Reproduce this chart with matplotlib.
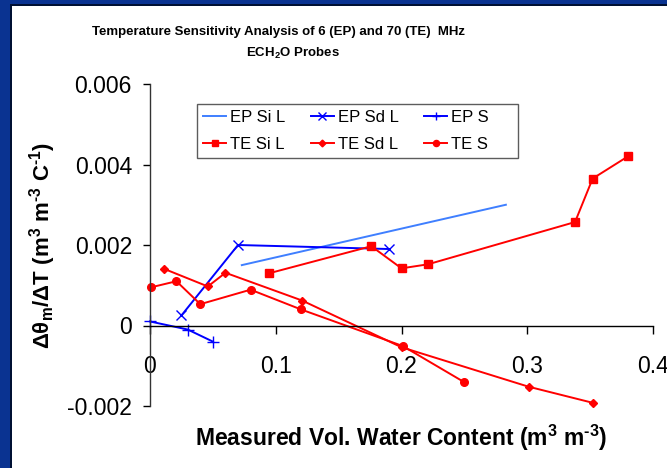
import matplotlib
matplotlib.use("Agg")
import matplotlib.pyplot as plt
from matplotlib.patches import Rectangle
from matplotlib.ticker import FixedLocator, FixedFormatter

plt.rcParams['font.family'] = ['Liberation Sans', 'DejaVu Sans']
plt.rcParams['mathtext.default'] = 'regular'

# volumetric water content (x) vs. temperature sensitivity (y) for each probe/soil
ep_si_l_x = [0.073, 0.283]
ep_si_l_y = [0.0015, 0.0030]

ep_sd_l_x = [0.025, 0.070, 0.190]
ep_sd_l_y = [0.00025, 0.0020, 0.0019]

ep_s_x = [0.0, 0.030, 0.050]
ep_s_y = [0.0001, -0.0001, -0.0004]

te_si_l_x = [0.095, 0.176, 0.200, 0.221, 0.338, 0.352, 0.380]
te_si_l_y = [0.0013, 0.00197, 0.00142, 0.00152, 0.00257, 0.00365, 0.0042]

te_sd_l_x = [0.011, 0.046, 0.060, 0.121, 0.200, 0.301, 0.352]
te_sd_l_y = [0.00141, 0.00097, 0.00131, 0.00062, -0.00054, -0.00152, -0.00192]

te_s_x = [0.001, 0.021, 0.040, 0.080, 0.120, 0.201, 0.250]
te_s_y = [0.00095, 0.0011, 0.00053, 0.00089, 0.0004, -0.00051, -0.00141]

x_ticks = [0.0, 0.1, 0.2, 0.3, 0.4]
x_tick_labels = ['0', '0.1', '0.2', '0.3', '0.4']
y_ticks = [-0.002, 0.0, 0.002, 0.004, 0.006]
y_tick_labels = ['-0.002', '0', '0.002', '0.004', '0.006']

W, H = 667, 468
fig = plt.figure(figsize=(W / 100, H / 100), dpi=100)
fig.patch.set_facecolor('white')

# slide-style blue frame on the left and top
border = '#0a3391'
fig.patches.append(Rectangle((0, 0), 10 / W, 1, transform=fig.transFigure,
                             facecolor=border, edgecolor='none', zorder=0))
fig.patches.append(Rectangle((0, 1 - 4 / H), 1, 4 / H, transform=fig.transFigure,
                             facecolor=border, edgecolor='none', zorder=0))
fig.patches.append(Rectangle((10 / W, 0), 1.5 / W, 1 - 4 / H, transform=fig.transFigure,
                             facecolor='#001033', edgecolor='none', zorder=0))
fig.patches.append(Rectangle((10 / W, 1 - 5.5 / H), 1, 1.5 / H, transform=fig.transFigure,
                             facecolor='#001033', edgecolor='none', zorder=0))

ax = fig.add_axes([150 / W, 1 - 406 / H, 503 / W, 322 / H])
ax.set_facecolor('none')

lw = 1.4
red = '#ff0000'
h1, = ax.plot(ep_si_l_x, ep_si_l_y, color='#3f7fff', lw=lw, label='EP Si L')
h2, = ax.plot(ep_sd_l_x, ep_sd_l_y, color='#0000ff', lw=lw, marker='x',
              ms=7, mew=1.0, label='EP Sd L')
h3, = ax.plot(ep_s_x, ep_s_y, color='#0000ff', lw=lw, marker='+',
              ms=8, mew=1.0, label='EP S')
h4, = ax.plot(te_si_l_x, te_si_l_y, color=red, lw=lw, marker='s',
              ms=6, label='TE Si L')
h5, = ax.plot(te_sd_l_x, te_sd_l_y, color=red, lw=lw, marker='D',
              ms=4.3, label='TE Sd L')
h6, = ax.plot(te_s_x, te_s_y, color=red, lw=lw, marker='o',
              ms=5.5, label='TE S')
for h in (h1, h2, h3, h4, h5, h6):
    h.set_clip_on(False)

ax.set_xlim(0, 0.4)
ax.set_ylim(-0.002, 0.006)
ax.spines['top'].set_visible(False)
ax.spines['right'].set_visible(False)
ax.spines['bottom'].set_position(('data', 0))
ax.spines['left'].set_color('#333333')
for s in ('left', 'bottom'):
    ax.spines[s].set_linewidth(1.0)

ax.xaxis.set_major_locator(FixedLocator(x_ticks))
ax.xaxis.set_major_formatter(FixedFormatter(x_tick_labels))
ax.yaxis.set_major_locator(FixedLocator(y_ticks))
ax.yaxis.set_major_formatter(FixedFormatter(y_tick_labels))
ax.tick_params(axis='x', direction='out', length=6, width=1, pad=15, labelsize=16.5)
ax.tick_params(axis='y', direction='out', length=5, width=1, pad=8, labelsize=16.5)

fig.text(279 / W, 1 - 35 / H,
         'Temperature Sensitivity Analysis of 6 (EP) and 70 (TE)  MHz',
         ha='center', va='baseline', fontsize=9.5, fontweight='bold')
fig.text(293 / W, 1 - 57 / H, 'ECH$_2$O Probes',
         ha='center', va='baseline', fontsize=9.5, fontweight='bold')

hy = '\u2010'  # plain hyphen for the negative exponents
fig.text(401 / W, 1 - 438 / H, f'Measured Vol. Water Content (m$^3$ m$^{{{hy}3}}$)',
         ha='center', va='center', fontsize=16.5, fontweight='bold')
fig.text(43 / W, 1 - 245 / H, f'Δθ$_m$/ΔT (m$^3$ m$^{{{hy}3}}$ C$^{{{hy}1}}$)',
         ha='center', va='center', rotation=90, fontsize=16, fontweight='bold')

leg = fig.legend([h1, h4, h2, h5, h3, h6],
                 ['EP Si L', 'TE Si L', 'EP Sd L', 'TE Sd L', 'EP S     ', 'TE S     '],
                 ncol=3, loc='upper left', bbox_to_anchor=(197 / W, 1 - 104 / H),
                 fontsize=12, frameon=True, fancybox=False, borderaxespad=0,
                 handlelength=1.4, handletextpad=0.25, columnspacing=1.5,
                 labelspacing=0.75, borderpad=0.35, markerscale=0.8)
leg.get_frame().set_edgecolor('#333333')
leg.get_frame().set_linewidth(1.0)

fig.savefig('out.png', dpi=100, facecolor=fig.get_facecolor())
